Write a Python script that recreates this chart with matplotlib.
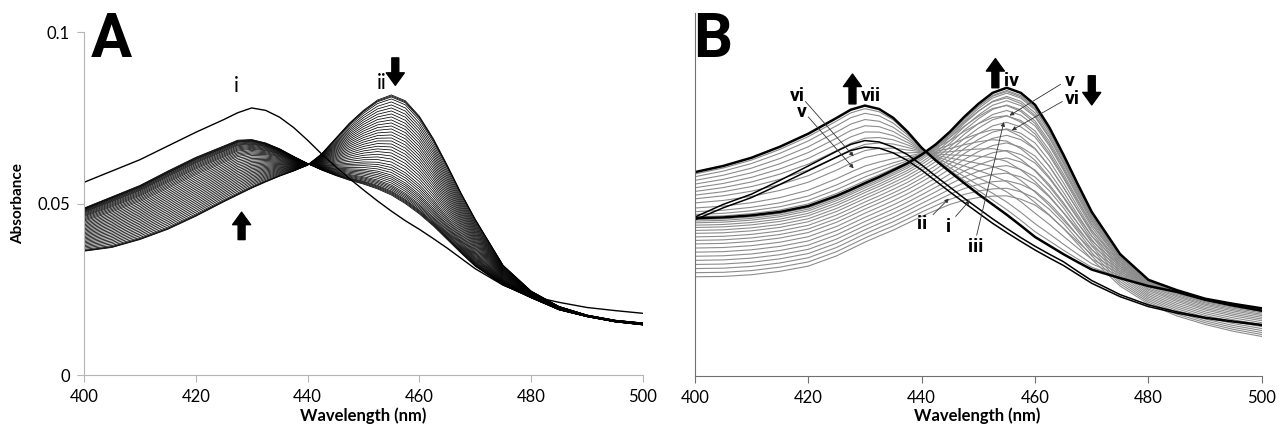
import numpy as np
import matplotlib
matplotlib.use("Agg")
import matplotlib.pyplot as plt

plt.rcParams['font.family'] = ['Lato', 'DejaVu Sans']

# wavelength grid (nm)
wl = [400, 405, 410, 415, 420, 425, 427.5, 430, 432.5, 435, 437.5, 440, 442.5, 445, 447.5,
      450, 452.5, 455, 457.5, 460, 462.5, 465, 467.5, 470, 475, 480, 485, 490, 495, 500]

# ---- panel A spectra ----
A_i = [0.0562, 0.0595, 0.0628, 0.0668, 0.0708, 0.0745, 0.0765, 0.0779, 0.0772, 0.0752, 0.0722,
       0.0685, 0.0645, 0.0608, 0.0573, 0.0540, 0.0508, 0.0478, 0.0450, 0.0425, 0.0398, 0.0370,
       0.0340, 0.0310, 0.0262, 0.0230, 0.0212, 0.0197, 0.0188, 0.0180]
A_ii = [0.0361, 0.0372, 0.0395, 0.0425, 0.0463, 0.0505, 0.0525, 0.0545, 0.0563, 0.0580, 0.0595,
        0.0612, 0.0645, 0.0690, 0.0735, 0.0772, 0.0802, 0.0817, 0.0800, 0.0755, 0.0690, 0.0612,
        0.0530, 0.0455, 0.0320, 0.0245, 0.0200, 0.0175, 0.0160, 0.0152]
A_end = [0.0487, 0.0520, 0.0553, 0.0595, 0.0635, 0.0668, 0.0685, 0.0687, 0.0677, 0.0660, 0.0638,
         0.0617, 0.0598, 0.0582, 0.0568, 0.0557, 0.0543, 0.0525, 0.0500, 0.0470, 0.0435, 0.0395,
         0.0355, 0.0317, 0.0262, 0.0225, 0.0190, 0.0170, 0.0155, 0.0146]
# titration steps from ii to the final spectrum
A_frac = [0.0, 0.01, 0.02, 0.04, 0.07, 0.10, 0.13, 0.16, 0.19, 0.22, 0.25, 0.28, 0.31, 0.34,
          0.37, 0.40, 0.43, 0.46, 0.49, 0.52, 0.55, 0.58, 0.61, 0.64, 0.67, 0.70, 0.725, 0.75,
          0.775, 0.80, 0.82, 0.84, 0.86, 0.88, 0.90, 0.915, 0.93, 0.945, 0.96, 0.97, 0.98, 0.99, 1.0]

# ---- panel B spectra ----
B_low = [0.0289, 0.0290, 0.0295, 0.0305, 0.0320, 0.0350, 0.0370, 0.0390, 0.0408, 0.0425, 0.0445,
         0.0465, 0.0483, 0.0500, 0.0512, 0.0520, 0.0524, 0.0525, 0.0515, 0.0498, 0.0468, 0.0430,
         0.0385, 0.0340, 0.0262, 0.0210, 0.0175, 0.0150, 0.0130, 0.0115]
B_iv = [0.0460, 0.0462, 0.0468, 0.0478, 0.0495, 0.0525, 0.0543, 0.0562, 0.0580, 0.0600, 0.0620,
        0.0645, 0.0675, 0.0712, 0.0755, 0.0793, 0.0825, 0.0840, 0.0825, 0.0790, 0.0725, 0.0645,
        0.0560, 0.0478, 0.0355, 0.0280, 0.0250, 0.0225, 0.0210, 0.0197]
B_vii = [0.0594, 0.0612, 0.0636, 0.0668, 0.0706, 0.0752, 0.0776, 0.0788, 0.0778, 0.0752, 0.0712,
         0.0665, 0.0628, 0.0595, 0.0562, 0.0530, 0.0500, 0.0470, 0.0438, 0.0405, 0.0380, 0.0355,
         0.0332, 0.0310, 0.0285, 0.0262, 0.0245, 0.0222, 0.0205, 0.0190]
B_i = [0.0463, 0.0500, 0.0530, 0.0570, 0.0612, 0.0655, 0.0675, 0.0686, 0.0682, 0.0667, 0.0645,
       0.0615, 0.0582, 0.0550, 0.0518, 0.0488, 0.0458, 0.0430, 0.0403, 0.0378, 0.0355, 0.0333,
       0.0305, 0.0278, 0.0237, 0.0207, 0.0187, 0.0171, 0.0160, 0.0150]
B_ii = [0.0455, 0.0490, 0.0520, 0.0558, 0.0598, 0.0638, 0.0657, 0.0667, 0.0664, 0.0650, 0.0628,
        0.0600, 0.0568, 0.0536, 0.0505, 0.0475, 0.0445, 0.0418, 0.0392, 0.0367, 0.0344, 0.0322,
        0.0296, 0.0270, 0.0231, 0.0202, 0.0183, 0.0168, 0.0157, 0.0147]
B1_frac = [0.0, 0.07, 0.14, 0.21, 0.28, 0.35, 0.42, 0.49, 0.56, 0.62, 0.68, 0.74, 0.79, 0.84,
           0.88, 0.92, 0.95, 0.975]
B2_frac = [0.03, 0.08, 0.14, 0.22, 0.33, 0.42, 0.50, 0.58, 0.66, 0.74, 0.82, 0.90, 0.96]

wl = np.array(wl)
A_i, A_ii, A_end = np.array(A_i), np.array(A_ii), np.array(A_end)
B_low, B_iv, B_vii = np.array(B_low), np.array(B_iv), np.array(B_vii)

fig = plt.figure(figsize=(12.82, 4.47), dpi=100)
axA = fig.add_axes([0.0655, 0.161, 0.436, 0.767])
axB = fig.add_axes([0.542, 0.159, 0.4423, 0.812])

# ---------------- panel A ----------------
for f in A_frac:
    axA.plot(wl, (1 - f) * A_ii + f * A_end, color='black', lw=0.55)
axA.plot(wl, A_i, color='black', lw=1.0)

axA.set_xlim(400, 500)
axA.set_ylim(0, 0.1)
axA.set_xticks([400, 420, 440, 460, 480, 500])
axA.set_yticks([0, 0.05, 0.1])
axA.set_yticklabels(['0', '0.05', '0.1'])
for s in ['top', 'right']:
    axA.spines[s].set_visible(False)
for s in ['left', 'bottom']:
    axA.spines[s].set_color('#b5b5b5')
axA.tick_params(direction='out', length=5, color='#b5b5b5', labelsize=12, pad=5)

axA.text(427.3, 0.0815, 'i', fontsize=15, ha='center', va='bottom')
axA.text(453.3, 0.0822, 'ii', fontsize=15, ha='center', va='bottom')
arr = dict(facecolor='black', edgecolor='black', width=5, headwidth=13, headlength=9, shrink=0)
axA.annotate('', xy=(455.7, 0.0845), xytext=(455.7, 0.0925), arrowprops=arr)
axA.annotate('', xy=(428.2, 0.0475), xytext=(428.2, 0.0395), arrowprops=arr)

# ---------------- panel B ----------------
grey = '#8c8c8c'
for f in B1_frac:
    axB.plot(wl, (1 - f) * B_low + f * B_iv, color=grey, lw=0.8)
for f in B2_frac:
    axB.plot(wl, (1 - f) * B_iv + f * B_vii, color=grey, lw=0.8)
axB.plot(wl, B_i, color='black', lw=1.1)
axB.plot(wl, B_ii, color='black', lw=1.1)
axB.plot(wl, B_iv, color='black', lw=1.8)
axB.plot(wl, B_vii, color='black', lw=1.8)

axB.set_xlim(400, 500)
axB.set_ylim(0, 0.1058)
axB.set_xticks([400, 420, 440, 460, 480, 500])
axB.set_yticks([])
for s in ['top', 'right']:
    axB.spines[s].set_visible(False)
for s in ['left', 'bottom']:
    axB.spines[s].set_color('#707070')
axB.tick_params(direction='out', length=5, color='#707070', labelsize=12, pad=5)

lab = dict(fontsize=14, fontweight='bold', fontstretch='condensed',
           family=['Liberation Sans Narrow', 'Roboto', 'DejaVu Sans'])
lead = dict(arrowstyle='-|>', color='#333333', lw=0.6, mutation_scale=6, shrinkA=0, shrinkB=0)
axB.text(418.1, 0.0817, 'vi', ha='center', va='center', **lab)
axB.text(418.8, 0.0769, 'v', ha='center', va='center', **lab)
axB.annotate('', xy=(428.0, 0.0640), xytext=(419.5, 0.0800), arrowprops=lead)
axB.annotate('', xy=(428.0, 0.0605), xytext=(420.0, 0.0755), arrowprops=lead)
axB.annotate('', xy=(427.8, 0.0880), xytext=(427.8, 0.0793), arrowprops=arr)
axB.text(429.2, 0.0817, 'vii', ha='left', va='center', **lab)
axB.annotate('', xy=(453.0, 0.0925), xytext=(453.0, 0.0840), arrowprops=arr)
axB.text(454.6, 0.0861, 'iv', ha='left', va='center', **lab)
axB.text(466.1, 0.0861, 'v', ha='center', va='center', **lab)
axB.text(466.6, 0.0808, 'vi', ha='center', va='center', **lab)
axB.annotate('', xy=(470.0, 0.0790), xytext=(470.0, 0.0875), arrowprops=arr)
axB.annotate('', xy=(455.5, 0.0759), xytext=(464.5, 0.0850), arrowprops=lead)
axB.annotate('', xy=(455.9, 0.0716), xytext=(464.8, 0.0800), arrowprops=lead)
axB.text(440.1, 0.0444, 'ii', ha='center', va='center', **lab)
axB.annotate('', xy=(444.8, 0.0517), xytext=(442.0, 0.0470), arrowprops=lead)
axB.text(444.8, 0.0434, 'i', ha='center', va='center', **lab)
axB.annotate('', xy=(448.5, 0.0512), xytext=(446.0, 0.0465), arrowprops=lead)
axB.text(449.5, 0.0376, 'iii', ha='center', va='center', **lab)
axB.annotate('', xy=(454.5, 0.0740), xytext=(449.7, 0.0410), arrowprops=lead)

# panel letters and axis titles
big = dict(fontsize=44, fontweight='bold', va='top', fontstretch='condensed',
           family=['Liberation Sans Narrow', 'Roboto', 'DejaVu Sans'])
fig.text(0.071, 0.975, 'A', **big)
fig.text(0.541, 0.975, 'B', **big)
fig.text(0.014, 0.544, 'Absorbance', rotation=90, ha='center', va='center',
         fontsize=11, fontweight='bold')
fig.text(0.283, 0.07, 'Wavelength (nm)', ha='center', va='center', fontsize=12, fontweight='bold')
fig.text(0.762, 0.07, 'Wavelength (nm)', ha='center', va='center', fontsize=12, fontweight='bold')

fig.savefig('out.png', dpi=100)
